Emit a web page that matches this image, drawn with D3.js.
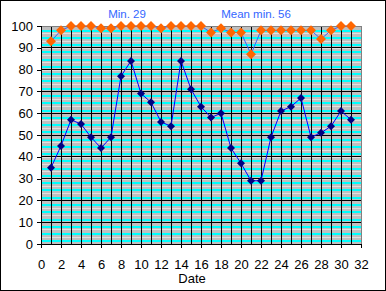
<!DOCTYPE html>
<html lang="en">
    <head>
        <meta charset="utf-8">
        <title>Daily values</title>
        <script type="text/javascript" src="https://d3js.org/d3.v7.min.js"></script>
        <style type="text/css">
            body { margin: 0; background: #fff; }
            text { font-family: "Liberation Sans", Arial, sans-serif; }
        </style>
    </head>
    <body>
        <div id="chart"></div>
        <script type="text/javascript">
            // series, one value per day
            const days = d3.range(1, 32);
            const lowVals = [35, 45, 57, 55, 49, 44, 49, 77, 84, 69, 65, 56, 54, 84, 71, 63,
                             58, 60, 44, 37, 29, 29, 49, 61, 63, 67, 49, 51, 54, 61, 57];
            const highVals = [93, 98, 100, 100, 100, 99, 99, 100, 100, 100, 100, 99, 100, 100, 100, 100,
                              97, 99, 97, 97, 87, 98, 98, 98, 98, 98, 98, 94, 98, 100, 100];
            const xTicks = d3.range(0, 33, 2);
            const yTicks = d3.range(0, 101, 10);
            const notes = [{text: "Min. 29", x: 8.6}, {text: "Mean min. 56", x: 21.5}];

            const W = 386, H = 291;
            const margin = {top: 26, right: 25, bottom: 47, left: 41};

            const xScale = d3.scaleLinear().domain([0, 32]).range([margin.left, W - margin.right]);
            const yScale = d3.scaleLinear().domain([0, 100]).range([H - margin.bottom, margin.top]);

            const svg = d3.select("#chart").append("svg")
                .attr("width", W)
                .attr("height", H);

            svg.append("rect")
                .attr("x", 0.5).attr("y", 0.5)
                .attr("width", W - 1).attr("height", H - 1)
                .attr("fill", "#fff").attr("stroke", "#000");

            const x0 = xScale(0), x1 = xScale(32), y0 = yScale(0), y1 = yScale(100);

            svg.append("rect")
                .attr("x", x0).attr("y", y1)
                .attr("width", x1 - x0).attr("height", y0 - y1)
                .attr("fill", "#c0c0c0");

            // three stripes per 10 units: a light line then a cyan one
            const stripeStarts = d3.range(0, 30).map(i => yScale(100 - i * 10 / 3));
            const stripes = svg.append("g").attr("shape-rendering", "crispEdges");
            stripes.selectAll(".lt").data(stripeStarts.slice(1)).enter().append("rect")
                .attr("x", x0).attr("width", x1 - x0)
                .attr("y", d => Math.round(d)).attr("height", 1)
                .attr("fill", "#e0e0e0");
            stripes.selectAll(".cy").data(stripeStarts).enter().append("rect")
                .attr("x", x0).attr("width", x1 - x0)
                .attr("y", d => Math.round(d + 3.6)).attr("height", 2)
                .attr("fill", "#00ffff");

            // grid
            const grid = svg.append("g").attr("stroke", "#000").attr("shape-rendering", "crispEdges");
            grid.selectAll(".vg").data(d3.range(1, 32)).enter().append("line")
                .attr("x1", d => xScale(d)).attr("x2", d => xScale(d))
                .attr("y1", y1).attr("y2", y0);
            grid.selectAll(".hg").data(d3.range(10, 100, 10)).enter().append("line")
                .attr("x1", x0).attr("x2", x1)
                .attr("y1", d => yScale(d)).attr("y2", d => yScale(d));

            // plot border (grey top/right)
            svg.append("path")
                .attr("d", `M${x0},${y1 + 0.5}H${x1 + 0.5}V${y0}`)
                .attr("fill", "none").attr("stroke", "#808080")
                .attr("shape-rendering", "crispEdges");

            const xAxis = d3.axisBottom(xScale).tickValues(xTicks).tickSize(4).tickPadding(12);
            const yAxis = d3.axisLeft(yScale).tickValues(yTicks).tickSize(4).tickPadding(4);

            const gx = svg.append("g")
                .attr("transform", "translate(0," + y0 + ")")
                .call(xAxis);
            const gy = svg.append("g")
                .attr("transform", "translate(" + x0 + ",0)")
                .call(yAxis);
            [gx, gy].forEach(g => {
                g.select(".domain").attr("stroke", "#000").attr("shape-rendering", "crispEdges");
                g.selectAll(".tick line").attr("stroke", "#000").attr("shape-rendering", "crispEdges");
                g.selectAll(".tick text")
                    .attr("fill", "#000")
                    .style("font-family", "'Liberation Sans', Arial, sans-serif")
                    .style("font-size", "13px");
            });
            gx.select(".domain").attr("d", `M${x0},0.5H${x1}`);
            gy.select(".domain").attr("d", `M0.5,${y0}V${y1}`);

            svg.append("text")
                .attr("x", 192).attr("y", 283)
                .attr("text-anchor", "middle")
                .style("font-size", "13px")
                .text("Date");

            svg.selectAll(".note").data(notes).enter().append("text")
                .attr("x", d => xScale(d.x)).attr("y", 18)
                .attr("text-anchor", "middle")
                .attr("fill", "#3366ff")
                .style("font-size", "11.5px")
                .text(d => d.text);

            const diamond = r => `M0,${-r}L${r},0L0,${r}L${-r},0Z`;

            function drawSeries(vals, lineColor, dotColor, r) {
                const pts = days.map((d, i) => [d, vals[i]]);
                svg.append("path")
                    .datum(pts)
                    .attr("fill", "none")
                    .attr("stroke", lineColor)
                    .attr("stroke-width", 1)
                    .attr("d", d3.line().x(d => xScale(d[0])).y(d => yScale(d[1])));
                svg.append("g").selectAll("path").data(pts).enter().append("path")
                    .attr("transform", d => "translate(" + xScale(d[0]) + "," + yScale(d[1]) + ")")
                    .attr("d", diamond(r))
                    .attr("fill", dotColor);
            }

            drawSeries(highVals, "#3366ff", "#ff6600", 5);
            drawSeries(lowVals, "#0000ff", "#000080", 4);
        </script>
    </body>
</html>
